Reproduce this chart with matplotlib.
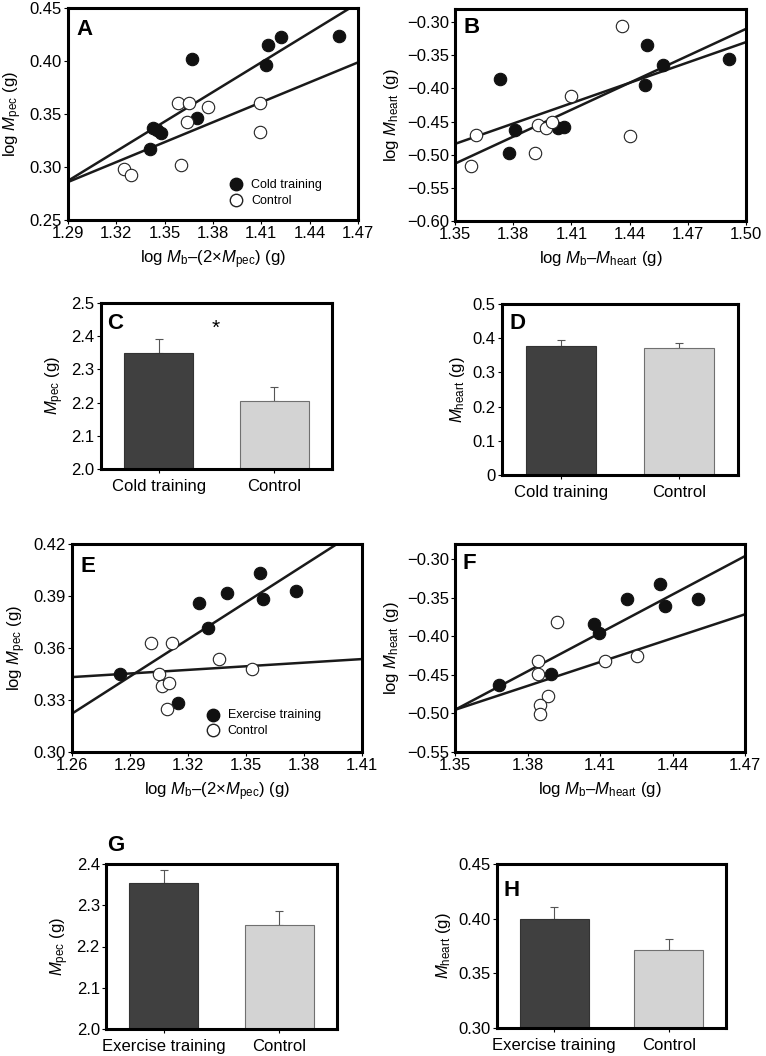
import numpy as np
import matplotlib
matplotlib.use("Agg")
import matplotlib.pyplot as plt

plt.rcParams['font.family'] = ['Liberation Sans', 'DejaVu Sans']
plt.rcParams['mathtext.fontset'] = 'custom'
plt.rcParams['mathtext.rm'] = 'Liberation Sans'
plt.rcParams['mathtext.it'] = 'Liberation Sans:italic'
plt.rcParams['mathtext.bf'] = 'Liberation Sans:bold'

# ---- panel A : cold training, pectoralis
a_cold_x = [1.367, 1.414, 1.422, 1.458, 1.413, 1.370, 1.343, 1.345, 1.348, 1.341]
a_cold_y = [0.402, 0.415, 0.423, 0.424, 0.396, 0.346, 0.337, 0.335, 0.332, 0.317]
a_ctrl_x = [1.325, 1.329, 1.360, 1.358, 1.365, 1.364, 1.377, 1.409, 1.409]
a_ctrl_y = [0.298, 0.292, 0.302, 0.360, 0.360, 0.342, 0.357, 0.360, 0.333]
a_cold_fit = [0.931, -0.914]   # slope, intercept
a_ctrl_fit = [0.627, -0.523]

# ---- panel B : cold training, heart
b_cold_x = [1.373, 1.378, 1.381, 1.403, 1.406, 1.449, 1.448, 1.457, 1.491]
b_cold_y = [-0.385, -0.497, -0.463, -0.459, -0.458, -0.334, -0.395, -0.364, -0.355]
b_ctrl_x = [1.358, 1.361, 1.391, 1.393, 1.397, 1.400, 1.410, 1.436, 1.440]
b_ctrl_y = [-0.517, -0.470, -0.498, -0.455, -0.460, -0.450, -0.412, -0.306, -0.471]
b_cold_fit = [1.356, -2.344]
b_ctrl_fit = [1.024, -1.866]

# ---- panel C / D : bar means
cold_groups = ['Cold training', 'Control']
c_mean = [2.348, 2.204]
c_err = [0.043, 0.043]
d_mean = [0.378, 0.370]
d_err = [0.016, 0.015]

# ---- panel E : exercise training, pectoralis
e_ex_x = [1.285, 1.315, 1.3255, 1.3305, 1.340, 1.357, 1.3586, 1.376]
e_ex_y = [0.345, 0.328, 0.386, 0.3715, 0.392, 0.403, 0.388, 0.393]
e_ctrl_x = [1.301, 1.3117, 1.305, 1.3064, 1.3103, 1.3091, 1.3362, 1.3533]
e_ctrl_y = [0.363, 0.363, 0.345, 0.338, 0.340, 0.325, 0.3535, 0.348]
e_ex_fit = [0.714, -0.5775]
e_ctrl_fit = [0.0693, 0.2559]

# ---- panel F : exercise training, heart
f_ex_x = [1.368, 1.3897, 1.4077, 1.4097, 1.421, 1.4347, 1.4369, 1.4507]
f_ex_y = [-0.4636, -0.4485, -0.3838, -0.3959, -0.3514, -0.3315, -0.3604, -0.3514]
f_ctrl_x = [1.3923, 1.3842, 1.3845, 1.3883, 1.3852, 1.3852, 1.4121, 1.4252]
f_ctrl_y = [-0.3812, -0.4313, -0.4485, -0.477, -0.4887, -0.5008, -0.4313, -0.4252]
f_ex_fit = [1.6625, -2.7396]
f_ctrl_fit = [1.0333, -1.8902]

# ---- panel G / H : bar means
ex_groups = ['Exercise training', 'Control']
g_mean = [2.353, 2.252]
g_err = [0.033, 0.034]
h_mean = [0.400, 0.3716]
h_err = [0.0107, 0.0098]

W, H = 766, 1056
fig = plt.figure(figsize=(W / 100, H / 100), dpi=100)

TICK = 12
LAB = 12


def box(l, t, r, b):
    return fig.add_axes([l / W, 1 - b / H, (r - l) / W, (b - t) / H])


def frame(ax):
    for s in ax.spines.values():
        s.set_linewidth(2.2)
    ax.tick_params(direction='out', length=3, width=0.8, labelsize=TICK, pad=1.5)


def letter(ax, txt, x, y, va='top'):
    ax.text(x, y, txt, transform=ax.transAxes, fontsize=16, fontweight='bold',
            ha='left', va=va)


def scatter_panel(ax, xf, yf, xo, yo, fit1, fit2, xlim, ylim, xticks, yticks, fmt):
    xs = np.array(xlim)
    for fit in (fit1, fit2):
        ax.plot(xs, fit[0] * xs + fit[1], color='#1a1a1a', lw=1.8, zorder=2)
    ax.scatter(xf, yf, s=80, c='#111111', edgecolors='#111111', lw=0.8, zorder=3)
    ax.scatter(xo, yo, s=80, c='white', edgecolors='#222222', lw=0.8, zorder=3)
    ax.set_xlim(xlim)
    ax.set_ylim(ylim)
    ax.set_xticks(xticks)
    ax.set_yticks(yticks)
    ax.set_xticklabels(['%.2f' % v for v in xticks])
    ax.set_yticklabels([fmt % v for v in yticks])
    frame(ax)


def bar_panel(ax, groups, mean, err, ylim, yticks, fmt):
    ax.bar([0, 1], mean, width=0.6, color=['#404040', '#d3d3d3'],
           edgecolor=['#333333', '#707070'], lw=0.8, zorder=2)
    ax.errorbar([0, 1], mean, yerr=[[0, 0], err], fmt='none', ecolor='#555555',
                elinewidth=0.8, capsize=3, capthick=0.8, zorder=1)
    ax.set_xlim(-0.5, 1.5)
    ax.set_ylim(ylim)
    ax.set_xticks([0, 1])
    ax.set_xticklabels(groups)
    ax.set_yticks(yticks)
    ax.set_yticklabels([fmt(v) for v in yticks])
    frame(ax)
    ax.tick_params(axis='x', labelsize=12, pad=4)


lab_pec = r'log $M_{\rm pec}$ (g)'
lab_heart = r'log $M_{\rm heart}$ (g)'
xlab_pec = r'log $M_{\rm b}$–(2×$M_{\rm pec}$) (g)'
xlab_heart = r'log $M_{\rm b}$–$M_{\rm heart}$ (g)'

# A
ax = box(68, 8, 358, 220)
scatter_panel(ax, a_cold_x, a_cold_y, a_ctrl_x, a_ctrl_y, a_cold_fit, a_ctrl_fit,
              (1.29, 1.47), (0.25, 0.45), np.arange(1.29, 1.471, 0.03),
              np.arange(0.25, 0.451, 0.05), '%.2f')
ax.set_ylabel(lab_pec, fontsize=LAB)
ax.set_xlabel(xlab_pec, fontsize=LAB, labelpad=5)
ax.scatter([], [], s=80, c='#111111', edgecolors='#111111', label='Cold training')
ax.scatter([], [], s=80, c='white', edgecolors='#222222', label='Control')
ax.legend(loc='lower left', bbox_to_anchor=(0.52, 0.04), frameon=False, fontsize=9,
          handletextpad=0.2, labelspacing=0.3, borderaxespad=0)
letter(ax, 'A', 0.03, 0.95)

# B
ax = box(455, 9, 746, 221)
scatter_panel(ax, b_cold_x, b_cold_y, b_ctrl_x, b_ctrl_y, b_cold_fit, b_ctrl_fit,
              (1.35, 1.50), (-0.60, -0.28), np.arange(1.35, 1.501, 0.03),
              np.arange(-0.60, -0.299, 0.05), '%.2f')
ax.set_yticklabels(['\u2212%.2f' % abs(v) for v in np.arange(-0.60, -0.299, 0.05)])
ax.set_ylabel(lab_heart, fontsize=LAB)
ax.set_xlabel(xlab_heart, fontsize=LAB, labelpad=5)
letter(ax, 'B', 0.03, 0.96)

# C
ax = box(101, 303, 332, 469)
bar_panel(ax, cold_groups, c_mean, c_err, (2.0, 2.5), np.arange(2.0, 2.51, 0.1),
          lambda v: '%.1f' % v)
ax.set_ylabel(r'$M_{\rm pec}$ (g)', fontsize=LAB)
ax.text(0.494, 2.425, '*', ha='center', va='center', fontsize=15)
letter(ax, 'C', 0.025, 0.94)

# D
ax = box(502, 304, 738, 475)
bar_panel(ax, cold_groups, d_mean, d_err, (0, 0.5), np.arange(0, 0.51, 0.1),
          lambda v: '0' if v == 0 else '%.1f' % v)
ax.set_ylabel(r'$M_{\rm heart}$ (g)', fontsize=LAB)
letter(ax, 'D', 0.03, 0.95)

# E
ax = box(72, 544, 362, 752)
scatter_panel(ax, e_ex_x, e_ex_y, e_ctrl_x, e_ctrl_y, e_ex_fit, e_ctrl_fit,
              (1.26, 1.41), (0.30, 0.42), np.arange(1.26, 1.411, 0.03),
              np.arange(0.30, 0.421, 0.03), '%.2f')
ax.set_ylabel(lab_pec, fontsize=LAB)
ax.set_xlabel(xlab_pec, fontsize=LAB, labelpad=5)
ax.scatter([], [], s=80, c='#111111', edgecolors='#111111', label='Exercise training')
ax.scatter([], [], s=80, c='white', edgecolors='#222222', label='Control')
ax.legend(loc='lower left', bbox_to_anchor=(0.425, 0.05), frameon=False, fontsize=9,
          handletextpad=0.2, labelspacing=0.3, borderaxespad=0)
letter(ax, 'E', 0.03, 0.94)

# F
ax = box(455, 544, 745, 752)
scatter_panel(ax, f_ex_x, f_ex_y, f_ctrl_x, f_ctrl_y, f_ex_fit, f_ctrl_fit,
              (1.35, 1.47), (-0.55, -0.28), np.arange(1.35, 1.471, 0.03),
              np.arange(-0.55, -0.299, 0.05), '%.2f')
ax.set_yticklabels(['\u2212%.2f' % abs(v) for v in np.arange(-0.55, -0.299, 0.05)])
ax.set_ylabel(lab_heart, fontsize=LAB)
ax.set_xlabel(xlab_heart, fontsize=LAB, labelpad=5)
letter(ax, 'F', 0.025, 0.957)

# G
ax = box(106, 864, 337, 1029)
bar_panel(ax, ex_groups, g_mean, g_err, (2.0, 2.4), np.arange(2.0, 2.41, 0.1),
          lambda v: '%.1f' % v)
ax.set_ylabel(r'$M_{\rm pec}$ (g)', fontsize=LAB)
letter(ax, 'G', 0.005, 1.05, va='bottom')

# H
ax = box(497, 864, 726, 1028)
bar_panel(ax, ex_groups, h_mean, h_err, (0.30, 0.45), np.arange(0.30, 0.451, 0.05),
          lambda v: '%.2f' % v)
ax.set_ylabel(r'$M_{\rm heart}$ (g)', fontsize=LAB)
letter(ax, 'H', 0.03, 0.90)

fig.savefig('out.png', dpi=100)
